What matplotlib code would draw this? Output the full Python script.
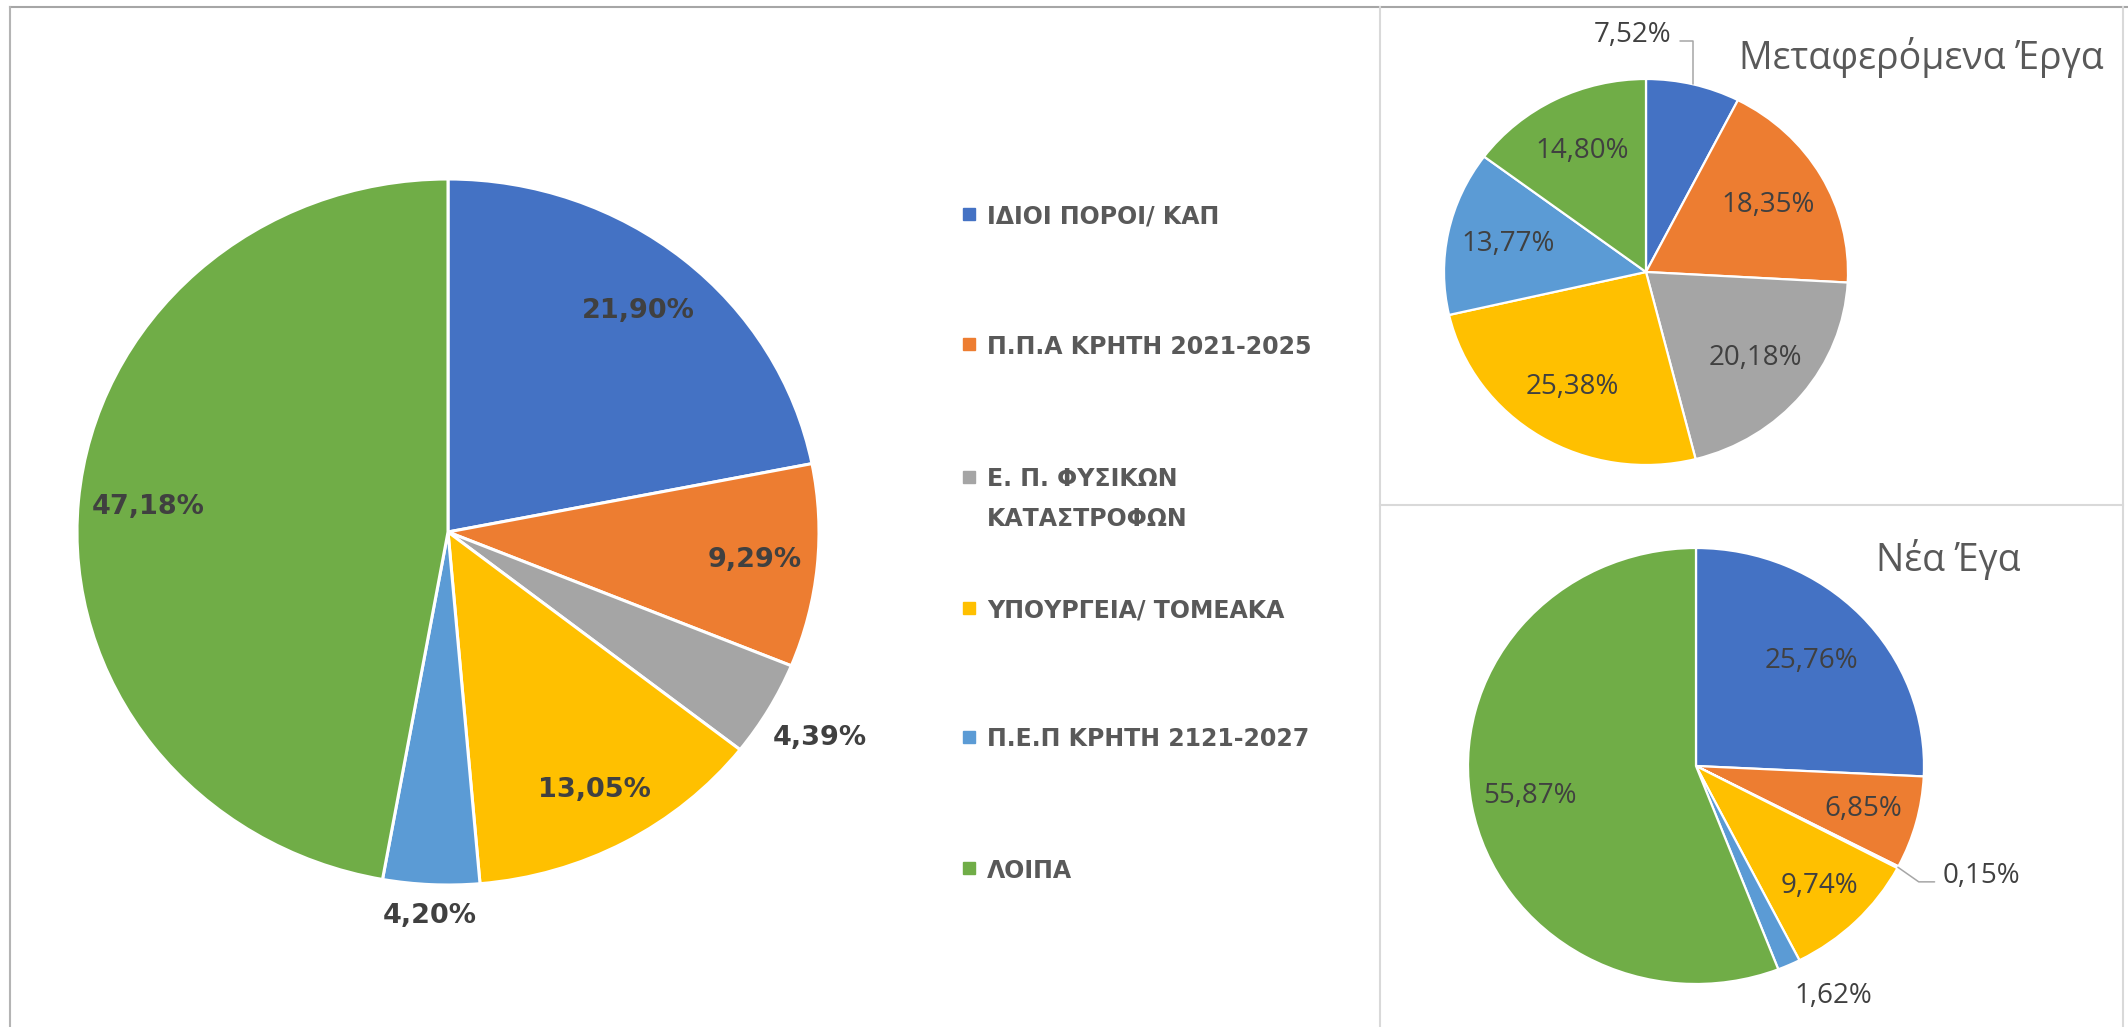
import numpy as np
import matplotlib
matplotlib.use("Agg")
import matplotlib.pyplot as plt
from matplotlib.lines import Line2D
from matplotlib.patches import Rectangle

plt.rcParams['font.family'] = ['DejaVu Sans']

# sources of funding (legend order = slice order)
categories = ["ΙΔΙΟΙ ΠΟΡΟΙ/ ΚΑΠ", "Π.Π.Α ΚΡΗΤΗ 2021-2025",
              "Ε. Π. ΦΥΣΙΚΩΝ\nΚΑΤΑΣΤΡΟΦΩΝ", "ΥΠΟΥΡΓΕΙΑ/ ΤΟΜΕΑΚΑ",
              "Π.Ε.Π ΚΡΗΤΗ 2121-2027", "ΛΟΙΠΑ"]
colors = ["#4472C4", "#ED7D31", "#A5A5A5", "#FFC000", "#5B9BD5", "#70AD47"]

total_share = [21.90, 9.29, 4.39, 13.05, 4.20, 47.18]
transferred_share = [7.52, 18.35, 20.18, 25.38, 13.77, 14.80]
new_share = [25.76, 6.85, 0.15, 9.74, 1.62, 55.87]

title_transferred = "Μεταφερόμενα Έργα"
title_new = "Νέα Έγα"

W, H = 2128, 1027
fig = plt.figure(figsize=(W / 100, H / 100), dpi=100)
fig.patch.set_facecolor("white")

LABEL_C = "#404040"
TEXT_C = "#595959"


def fx(x):
    return x / W


def fy(y):
    return 1 - y / H


def pie_axes(cx, cy, rx, ry):
    return fig.add_axes([fx(cx - rx), fy(cy + ry), 2 * rx / W, 2 * ry / H])


def pct(v):
    return f"{v:.2f}%".replace(".", ",")


def draw_pie(ax, values, lw):
    wedges, _ = ax.pie(values, colors=colors, startangle=90, counterclock=False,
                       wedgeprops=dict(edgecolor="white", linewidth=lw))
    ax.set_aspect("auto")
    ax.set_xlim(-1, 1)
    ax.set_ylim(-1, 1)
    return wedges


def mid(w):
    a = np.deg2rad((w.theta1 + w.theta2) / 2)
    return np.cos(a), np.sin(a)


# frame lines of the screenshot
def line(x0, y0, x1, y1, color):
    fig.add_artist(Line2D([fx(x0), fx(x1)], [fy(y0), fy(y1)], color=color, lw=1.5))


line(10, 7, W, 7, "#a6a6a6")
line(10, 7, 10, H, "#b4b4b4")
line(1380, 7, 1380, H, "#d9d9d9")
line(1380, 505, 2123, 505, "#d9d9d9")
line(2123, 7, 2123, H, "#d9d9d9")

# main pie
ax1 = pie_axes(448, 532, 371, 353)
w1 = draw_pie(ax1, total_share, 2.2)
main_r = [0.81, 0.83, 1.16, 0.83, 1.09, 0.81]
for w, v, r in zip(w1, total_share, main_r):
    c, s = mid(w)
    ax1.text(r * c, r * s, pct(v), ha="center", va="center", fontsize=19.5,
             fontweight="bold", color=LABEL_C)

# legend (row = centre of the first text line)
legend_rows = [214, 344, 477, 608, 737, 868]
for lab, col, y in zip(categories, colors, legend_rows):
    fig.add_artist(Rectangle((fx(963), fy(y + 6)), 12 / W, 12 / H, color=col,
                             transform=fig.transFigure))
    fig.text(fx(987), fy(y - 9.5), lab, ha="left", va="top", fontsize=17,
             fontweight="bold", color=TEXT_C, linespacing=1.82)

small_font = dict(fontsize=20, color=LABEL_C, family=["Open Sans", "DejaVu Sans"])

# transferred projects
ax2 = pie_axes(1646, 272, 202, 193)
w2 = draw_pie(ax2, transferred_share, 1.6)
for i, (w, v) in enumerate(zip(w2, transferred_share)):
    c, s = mid(w)
    if i == 0:
        ax2.annotate(pct(v), xy=(c, s), xytext=(-22, 49), textcoords="offset pixels",
                     ha="right", va="center", annotation_clip=False,
                     arrowprops=dict(arrowstyle="-", color="#a6a6a6", lw=1.1,
                                     connectionstyle="angle,angleA=0,angleB=90,rad=0",
                                     relpos=(1, 0.3), shrinkA=4, shrinkB=0),
                     **small_font)
    else:
        ax2.text(0.70 * c, 0.70 * s, pct(v), ha="center", va="center", **small_font)
fig.text(fx(1921), fy(57), title_transferred, ha="center", va="center", fontsize=27,
         color=TEXT_C, family=["Open Sans", "DejaVu Sans"])

# new projects
ax3 = pie_axes(1696, 766, 228, 218)
w3 = draw_pie(ax3, new_share, 1.6)
new_r = [0.70, 0.76, None, 0.77, None, 0.74]
for i, (w, v, r) in enumerate(zip(w3, new_share, new_r)):
    c, s = mid(w)
    if i == 2:
        ax3.annotate(pct(v), xy=(c, s), xytext=(45, -9), textcoords="offset pixels",
                     ha="left", va="center", annotation_clip=False,
                     arrowprops=dict(arrowstyle="-", color="#a6a6a6", lw=1.1,
                                     connectionstyle="angle,angleA=0,angleB=-35,rad=0",
                                     relpos=(0, 0.3), shrinkA=4, shrinkB=0),
                     **small_font)
    elif i == 4:
        ax3.annotate(pct(v), xy=(c, s), xytext=(44, -31), textcoords="offset pixels",
                     ha="center", va="center", annotation_clip=False, **small_font)
    else:
        ax3.text(r * c, r * s, pct(v), ha="center", va="center", **small_font)
fig.text(fx(1948), fy(560), title_new, ha="center", va="center", fontsize=27,
         color=TEXT_C, family=["Open Sans", "DejaVu Sans"])

fig.savefig("out.png", dpi=100)
